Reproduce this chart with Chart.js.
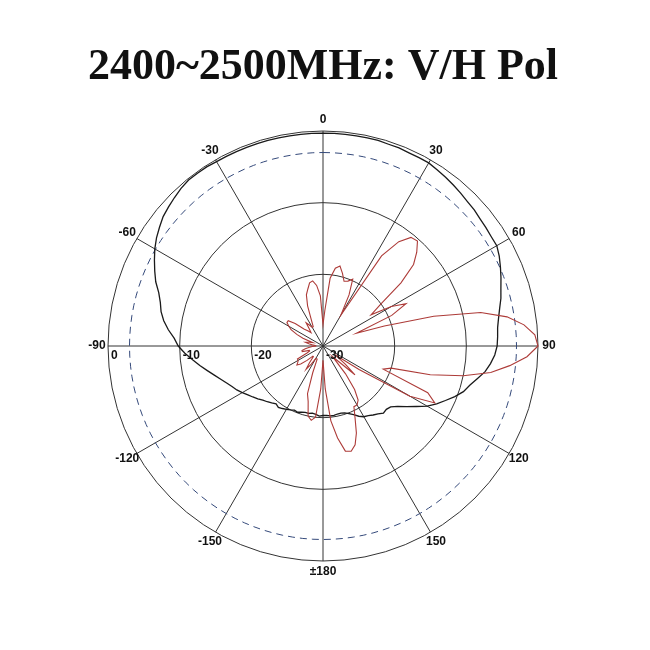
<!DOCTYPE html>
<html lang="en">
<head>
  <meta charset="UTF-8" />
  <title>2400~2500MHz: V/H Pol</title>
  <script src="https://cdn.jsdelivr.net/npm/chart.js"></script>
  <style>
    body {
      margin: 0;
      background: #ffffff;
    }
    .wrap {
      width: 650px;
      height: 650px;
    }
  </style>
</head>
<body>
  <div class="wrap">
    <canvas id="patternChart" width="650" height="650"></canvas>
  </div>

  <script>
    // azimuth in degrees, clockwise from the top, 3 degree steps
    const angles = [
      0, 3, 6, 9, 12, 15, 18, 21, 24, 27, 30, 33, 36, 39, 42, 45, 48, 51, 54, 57,
      60, 63, 66, 69, 72, 75, 78, 81, 84, 87, 90, 93, 96, 99, 102, 105, 108, 111, 114, 117,
      120, 123, 126, 129, 132, 135, 138, 141, 144, 147, 150, 153, 156, 159, 162, 165, 168, 171, 174, 177,
      180, 183, 186, 189, 192, 195, 198, 201, 204, 207, 210, 213, 216, 219, 222, 225, 228, 231, 234, 237,
      240, 243, 246, 249, 252, 255, 258, 261, 264, 267, 270, 273, 276, 279, 282, 285, 288, 291, 294, 297,
      300, 303, 306, 309, 312, 315, 318, 321, 324, 327, 330, 333, 336, 339, 342, 345, 348, 351, 354, 357
    ];

    // V pol (black), dB
    const vPol = [
      -0.3, -0.3, -0.3, -0.3, -0.3, -0.3, -0.4, -0.4, -0.5, -0.5, -0.5, -0.7, -0.9, -1.1, -1.3, -1.5, -1.6, -1.8, -1.9, -2.0,
      -2.0, -2.4, -2.9, -3.4, -3.9, -4.3, -4.8, -5.2, -5.5, -5.6, -5.7, -6.0, -6.5, -7.1, -8.0, -8.8, -9.4, -10.3, -11.3, -12.2,
      -13.2, -14.5, -15.6, -16.6, -17.3, -17.5, -17.4, -17.8, -18.1, -18.4, -18.6, -19.0, -19.5, -19.9, -20.2, -20.3, -20.3, -20.2, -20.2, -20.3,
      -20.3, -20.2, -20.4, -20.5, -20.4, -20.4, -20.3, -20.1, -20.2, -20.0, -19.8, -19.6, -19.4, -19.6, -19.3, -19.0, -18.7, -18.3, -17.9, -17.5,
      -17.0, -16.5, -16.1, -15.6, -15.0, -14.3, -13.5, -12.6, -11.7, -10.7, -9.8, -9.2, -8.3, -7.5, -6.9, -6.5, -5.9, -5.0, -4.3, -3.6,
      -2.9, -2.3, -1.8, -1.3, -1.0, -0.7, -0.4, -0.2, -0.2, -0.2, -0.3, -0.3, -0.3, -0.3, -0.3, -0.3, -0.3, -0.3, -0.3, -0.3
    ];

    // H pol (red), dB
    const hPol = [
      -27, -25, -20.5, -19, -18.6, -19.5, -20.5, -20.3, -19.8, -22, -25, -15, -12, -10.5, -10.3, -11.5, -13, -16, -20, -22,
      -19, -17, -19.5, -25, -21, -14, -7.5, -4, -1.8, -0.4, 0, -1.5, -3.8, -6.3, -10, -14.5, -20, -21, -14, -12.5,
      -16, -24, -28, -26, -24, -27, -28, -25, -22.5, -21, -20.5, -20.5, -19, -17, -15.5, -14.8, -15, -17, -19.5, -24,
      -28, -24, -20, -19.5, -20, -22, -23, -26, -28, -28, -28, -27, -26, -27, -28, -28, -27, -26, -25.5, -25.8,
      -26, -26, -27.5, -28, -28, -27, -27, -27.5, -28, -28.5, -29, -29, -28.5, -28, -27.5, -28, -28.5, -27, -26, -25,
      -24.5, -24, -24, -25, -26.5, -27, -27.5, -27, -26, -26.5, -27, -27, -26, -24, -22.5, -21.8, -21, -20.8, -21.5, -23
    ];

    // dashed reference level, dB
    const refLevel = -3;

    const angleTicks = [0, 30, 60, 90, 120, 150, 180, 210, 240, 270, 300, 330];
    const angleTickText = ['0', '30', '60', '90', '120', '150', '\u00b1180', '-150', '-120', '-90', '-60', '-30'];
    const dbTicks = [0, -10, -20, -30];

    // labels drawn by hand so they can sit like the original plot
    const polarLabels = {
      id: 'polarLabels',
      afterDraw(chart) {
        const r = chart.scales.r;
        const ctx = chart.ctx;
        ctx.save();
        ctx.fillStyle = '#111';
        ctx.font = 'bold 12px "Liberation Sans", Arial, sans-serif';
        ctx.textAlign = 'center';
        ctx.textBaseline = 'middle';
        angleTicks.forEach((a, i) => {
          const pos = r.getPointPosition(angles.indexOf(a), r.drawingArea + 11);
          ctx.fillText(angleTickText[i], pos.x, pos.y);
        });
        ctx.textAlign = 'left';
        dbTicks.forEach(v => {
          const d = r.getDistanceFromCenterForValue(v);
          ctx.fillText(String(v), r.xCenter - d + 3, r.yCenter + 10);
        });
        ctx.restore();
      }
    };

    const spoke = ctx => (ctx.index % 10 === 0 ? '#333' : 'rgba(0,0,0,0)');

    new Chart(document.getElementById('patternChart'), {
      type: 'radar',
      data: {
        labels: angles,
        datasets: [
          {
            label: 'H Pol',
            data: hPol,
            borderColor: '#ad3b38',
            borderWidth: 1.1,
            pointRadius: 0,
            fill: false
          },
          {
            label: 'V Pol',
            data: vPol,
            borderColor: '#1a1a1a',
            borderWidth: 1.3,
            pointRadius: 0,
            fill: false
          },
          {
            label: '-3 dB',
            data: angles.map(() => refLevel),
            borderColor: '#34497a',
            borderWidth: 1,
            borderDash: [7, 5],
            pointRadius: 0,
            fill: false
          }
        ]
      },
      options: {
        responsive: false,
        animation: false,
        layout: {
          padding: { left: 0, right: 4, top: 0, bottom: 88 }
        },
        plugins: {
          legend: { display: false },
          tooltip: { enabled: false },
          title: {
            display: true,
            text: '2400~2500MHz: V/H Pol',
            color: '#111',
            font: { family: '"Liberation Serif", "Times New Roman", serif', size: 44, weight: 'bold' },
            padding: { top: 41, bottom: 38 }
          }
        },
        scales: {
          r: {
            min: -30,
            max: 0,
            ticks: { stepSize: 10, display: false },
            pointLabels: { display: false },
            grid: { circular: true, color: '#333', lineWidth: 1 },
            angleLines: {
              color: spoke,
              lineWidth: ctx => (ctx.index % 10 === 0 ? 1 : 0)
            }
          }
        }
      },
      plugins: [polarLabels]
    });
  </script>
</body>
</html>
